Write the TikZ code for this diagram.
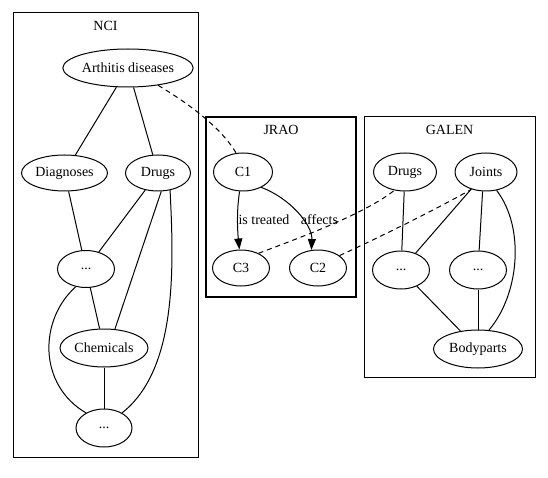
\documentclass[tikz,border=0pt]{standalone}
\usepackage{fontspec}
\setmainfont{Liberation Serif}
\usetikzlibrary{shapes.geometric,arrows.meta}
\begin{document}
\begin{tikzpicture}[x=1pt,y=-1pt,
  every node/.style={font=\fontsize{14}{16}\selectfont},
  ell/.style={draw,ellipse,inner sep=0pt,line width=1pt},
  clus/.style={draw,line width=1pt},
  conn/.style={line width=1pt},
  dashline/.style={line width=1pt,dash pattern=on 5pt off 4pt},
  arr/.style={line width=1pt,-{Triangle[length=11pt,width=8pt]}},
  lbl/.style={inner sep=0pt}]
\useasboundingbox[fill=white] (0,0) rectangle (548,478);
% clusters
\draw[clus] (13,13) rectangle (198,457);
\draw[clus,line width=1.8pt] (206,117) rectangle (356,297);
\draw[clus] (364,117) rectangle (535,377);
\node[lbl] (lnci) at (105.5,26) {NCI};
\node[lbl] (ljrao) at (281,130) {JRAO};
\node[lbl] (lgalen) at (449.5,130) {GALEN};
% NCI nodes
\node[ell,minimum width=123pt,minimum height=38pt] (arth) at (128,68) {Arthitis diseases};
\node[ell,minimum width=86pt,minimum height=36pt] (diag) at (64.5,173) {Diagnoses};
\node[ell,minimum width=65pt,minimum height=36pt] (drugsN) at (158,173) {Drugs};
\node[ell,minimum width=57pt,minimum height=37pt] (dotsA) at (86,269) {...};
\node[ell,minimum width=88pt,minimum height=38pt] (chem) at (104,348) {Chemicals};
\node[ell,minimum width=56pt,minimum height=38pt] (dotsB) at (104,428) {...};
% JRAO nodes
\node[ell,minimum width=59pt,minimum height=38pt] (c1) at (243,172) {C1};
\node[ell,minimum width=57pt,minimum height=36pt] (c3) at (241,268) {C3};
\node[ell,minimum width=57pt,minimum height=36pt] (c2) at (318,268) {C2};
% GALEN nodes
\node[ell,minimum width=63pt,minimum height=38pt] (drugsG) at (405,172) {Drugs};
\node[ell,minimum width=62pt,minimum height=38pt] (joints) at (486,172) {Joints};
\node[ell,minimum width=57pt,minimum height=38pt] (dotsL) at (401,270) {...};
\node[ell,minimum width=57pt,minimum height=38pt] (dotsR) at (478,270) {...};
\node[ell,minimum width=89pt,minimum height=38pt] (body) at (478,349) {Bodyparts};
% NCI edges
\draw[conn] (arth) -- (diag);
\draw[conn] (arth) -- (drugsN);
\draw[conn] (diag) -- (dotsA);
\draw[conn] (drugsN) -- (dotsA);
\draw[conn] (drugsN.-80) -- (chem.60);
\draw[conn] (dotsA) -- (chem);
\draw[conn] (chem) -- (dotsB);
\draw[conn] (drugsN.-55) .. controls +(4,78) and +(55,-43) .. (dotsB.40);
\draw[conn] (dotsA.-120) .. controls +(-37,33) and +(-48,-28) .. (dotsB.140);
% dashed mappings
\draw[dashline] (arth.-30) .. controls +(22,13) and +(-17,-29) .. (c1.110);
\draw[dashline] (c3.40) .. controls +(45,-17) and +(-31,24) .. (drugsG.-120);
\draw[dashline] (c2.30) .. controls +(48,-22) and +(-32,18) .. (joints.-130);
% JRAO edges
\draw[arr] (c1.-100) .. controls +(-3,19) and +(-2,-20) .. (c3.95);
\node[lbl] (lt) at (264,220) {is treated};
\draw[arr] (c1.-40) .. controls +(29,11) and +(1,-25) .. (c2.110);
\node[lbl] (la) at (319.5,220) {affects};
% GALEN edges
\draw[conn] (drugsG) -- (dotsL);
\draw[conn] (joints) -- (dotsL);
\draw[conn] (joints.-100) -- (dotsR);
\draw[conn] (dotsL) -- (body);
\draw[conn] (dotsR) -- (body);
\draw[conn] (joints.-60) .. controls +(29,38) and +(30,-35) .. (body.60);
\end{tikzpicture}
\end{document}
